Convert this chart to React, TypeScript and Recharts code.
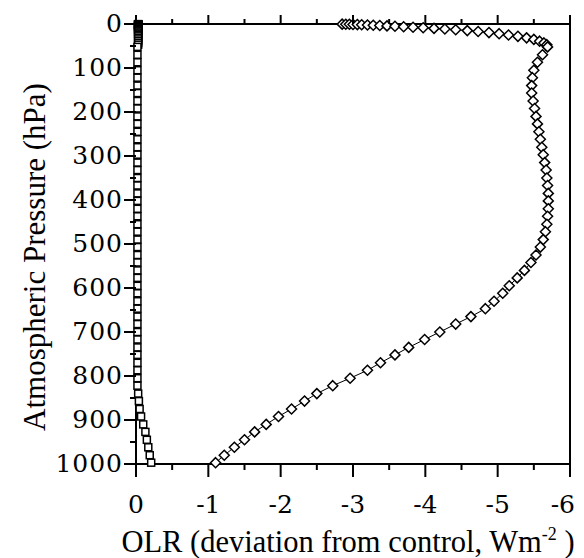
import { Label, Scatter, ScatterChart, XAxis, YAxis } from 'recharts'

// pressure levels (hPa), dense near the top
const pressure = [
  0.3, 0.5, 0.7, 1, 1.3, 1.7, 2.2, 2.8, 3.5, 4.3, 5.2, 6.2, 7.3, 8.5, 10, 11.5, 13, 15, 17, 19.5,
  22, 25, 28, 31.5, 35, 39, 43, 47,
  52, 70, 87, 105, 122, 140, 157, 175, 192, 210, 227, 245, 262, 280, 297, 315, 332, 350, 367, 385,
  402, 420, 437, 455, 472, 490, 507, 525, 542, 560, 577, 595, 612, 630, 647, 665, 682, 700, 717, 735,
  752, 770, 787, 805, 822, 840, 857, 875, 892, 910, 927, 945, 962, 980, 997,
]

// diamonds
const olrDiamond = [
  -2.85, -2.9, -2.95, -3.0, -3.06, -3.12, -3.2, -3.28, -3.37, -3.47, -3.58, -3.7, -3.83, -3.97, -4.12,
  -4.27, -4.42, -4.58, -4.73, -4.88, -5.02, -5.15, -5.28, -5.4, -5.5, -5.58, -5.64, -5.68,
  -5.69, -5.62, -5.55, -5.5, -5.48, -5.47, -5.47, -5.49, -5.51, -5.53, -5.55, -5.57, -5.59, -5.61,
  -5.63, -5.65, -5.67, -5.68, -5.69, -5.7, -5.7, -5.7, -5.69, -5.68, -5.66, -5.63, -5.59, -5.53,
  -5.46, -5.37, -5.27, -5.16, -5.07, -4.95, -4.83, -4.63, -4.42, -4.2, -3.99, -3.77, -3.58, -3.38,
  -3.2, -2.96, -2.72, -2.5, -2.33, -2.15, -1.97, -1.8, -1.64, -1.5, -1.36, -1.22, -1.1,
]

// squares
const olrSquare = [
  -0.03, -0.03, -0.03, -0.03, -0.03, -0.03, -0.03, -0.03, -0.03, -0.03, -0.03, -0.03, -0.03, -0.03,
  -0.03, -0.03, -0.03, -0.03, -0.03, -0.03, -0.03, -0.03, -0.03, -0.03, -0.03, -0.03, -0.03, -0.03,
  -0.02, -0.02, -0.02, -0.02, -0.02, -0.02, -0.02, -0.02, -0.02, -0.02, -0.02, -0.02, -0.02, -0.02,
  -0.02, -0.02, -0.02, -0.02, -0.02, -0.02, -0.02, -0.02, -0.02, -0.02, -0.02, -0.02, -0.02, -0.02,
  -0.02, -0.02, -0.02, -0.02, -0.02, -0.02, -0.02, -0.02, -0.02, -0.02, -0.02, -0.02, -0.02, -0.02,
  -0.02, -0.02, -0.02, -0.03, -0.04, -0.05, -0.07, -0.1, -0.13, -0.15, -0.17, -0.19, -0.21,
]

const xTicks = [0, -0.5, -1, -1.5, -2, -2.5, -3, -3.5, -4, -4.5, -5, -5.5, -6]
const yTicks = [
  0, 50, 100, 150, 200, 250, 300, 350, 400, 450, 500, 550, 600, 650, 700, 750, 800, 850, 900, 950, 1000,
]

const diamonds = pressure.map((p, i) => ({ x: olrDiamond[i], y: p }))
const squares = pressure.map((p, i) => ({ x: olrSquare[i], y: p }))

const TICK_FONT = '"DejaVu Serif", "Liberation Serif", serif'
const TITLE_FONT = '"Liberation Serif", "DejaVu Serif", serif'
const axisStyle = { stroke: '#000', strokeWidth: 2 }

const BottomTick = ({ x, y, payload }: any) => {
  const major = Number.isInteger(payload.value)
  // last label sits flush with the right frame
  const isLast = payload.value === -6
  return (
    <g>
      <line x1={x} y1={y} x2={x} y2={y + (major ? 13 : 6)} stroke="#000" strokeWidth={2} />
      {major && (
        <text
          x={isLast ? x + 5 : x}
          y={y + 49}
          textAnchor={isLast ? 'end' : 'middle'}
          fontFamily={TICK_FONT}
          fontSize={25}
          fill="#000"
        >
          {payload.value}
        </text>
      )}
    </g>
  )
}

const TopTick = ({ x, y, payload }: any) => {
  const major = Number.isInteger(payload.value)
  return <line x1={x} y1={y} x2={x} y2={y - (major ? 9 : 5)} stroke="#000" strokeWidth={2} />
}

const LeftTick = ({ x, y, payload }: any) => {
  const major = payload.value % 100 === 0
  return (
    <g>
      <line x1={x} y1={y} x2={x - (major ? 12 : 6)} y2={y} stroke="#000" strokeWidth={2} />
      {major && (
        <text
          x={x - 13}
          y={y}
          dy="0.33em"
          textAnchor="end"
          fontFamily={TICK_FONT}
          fontSize={25}
          letterSpacing={1}
          fill="#000"
        >
          {payload.value}
        </text>
      )}
    </g>
  )
}

const XTitle = ({ viewBox }: any) => {
  const cx = viewBox.x + viewBox.width / 2 - 5
  const by = viewBox.y + 88
  return (
    <text x={cx} y={by} textAnchor="middle" fontFamily={TITLE_FONT} fontSize={30.5} fill="#000">
      OLR (deviation from control, Wm
      <tspan dy={-12} fontSize={18}>-2</tspan>
      <tspan dy={12}> )</tspan>
    </text>
  )
}

const YTitle = ({ viewBox }: any) => {
  const x = viewBox.x + 9
  const cy = viewBox.y + viewBox.height / 2 + 13
  return (
    <text
      x={x}
      y={cy}
      transform={`rotate(-90, ${x}, ${cy})`}
      textAnchor="middle"
      fontFamily={TITLE_FONT}
      fontSize={31}
      fill="#000"
    >
      Atmospheric Pressure (hPa)
    </text>
  )
}

const Diamond = ({ cx, cy }: any) => (
  <polygon
    points={`${cx},${cy - 5} ${cx + 5},${cy} ${cx},${cy + 5} ${cx - 5},${cy}`}
    fill="#fff"
    stroke="#000"
    strokeWidth={1.5}
  />
)

const Square = ({ cx, cy }: any) => (
  <rect x={cx - 3.5} y={cy - 3.5} width={7} height={7} fill="#fff" stroke="#000" strokeWidth={1.5} />
)

export default function App() {
  return (
    <div style={{ width: 576, height: 550, background: '#fff' }}>
      <ScatterChart width={576} height={550} margin={{ top: 6, right: 13, bottom: 0, left: 28 }}>
        <XAxis
          xAxisId="b"
          dataKey="x"
          type="number"
          domain={[-6, 0]}
          reversed
          ticks={xTicks}
          interval={0}
          height={94}
          tickSize={0}
          tickMargin={0}
          tickLine={false}
          axisLine={axisStyle}
          tick={BottomTick}
        >
          <Label content={XTitle} />
        </XAxis>
        <XAxis
          xAxisId="t"
          orientation="top"
          dataKey="x"
          type="number"
          domain={[-6, 0]}
          reversed
          ticks={xTicks}
          interval={0}
          height={10}
          tickSize={0}
          tickMargin={0}
          tickLine={false}
          axisLine={axisStyle}
          tick={TopTick}
        />
        <YAxis
          yAxisId="l"
          dataKey="y"
          type="number"
          domain={[0, 1000]}
          reversed
          ticks={yTicks}
          interval={0}
          width={100}
          tickSize={0}
          tickMargin={0}
          tickLine={false}
          axisLine={axisStyle}
          tick={LeftTick}
        >
          <Label content={YTitle} />
        </YAxis>
        <YAxis
          yAxisId="r"
          orientation="right"
          dataKey="y"
          type="number"
          domain={[0, 1000]}
          reversed
          width={1}
          tick={false}
          tickLine={false}
          axisLine={axisStyle}
        />
        <Scatter
          data={squares}
          xAxisId="t"
          yAxisId="r"
          shape={() => <g />}
          isAnimationActive={false}
        />
        <Scatter
          data={squares}
          xAxisId="b"
          yAxisId="l"
          line={{ stroke: '#000', strokeWidth: 1 }}
          shape={Square}
          isAnimationActive={false}
        />
        <Scatter
          data={diamonds}
          xAxisId="b"
          yAxisId="l"
          line={{ stroke: '#000', strokeWidth: 1 }}
          shape={Diamond}
          isAnimationActive={false}
        />
      </ScatterChart>
    </div>
  )
}
